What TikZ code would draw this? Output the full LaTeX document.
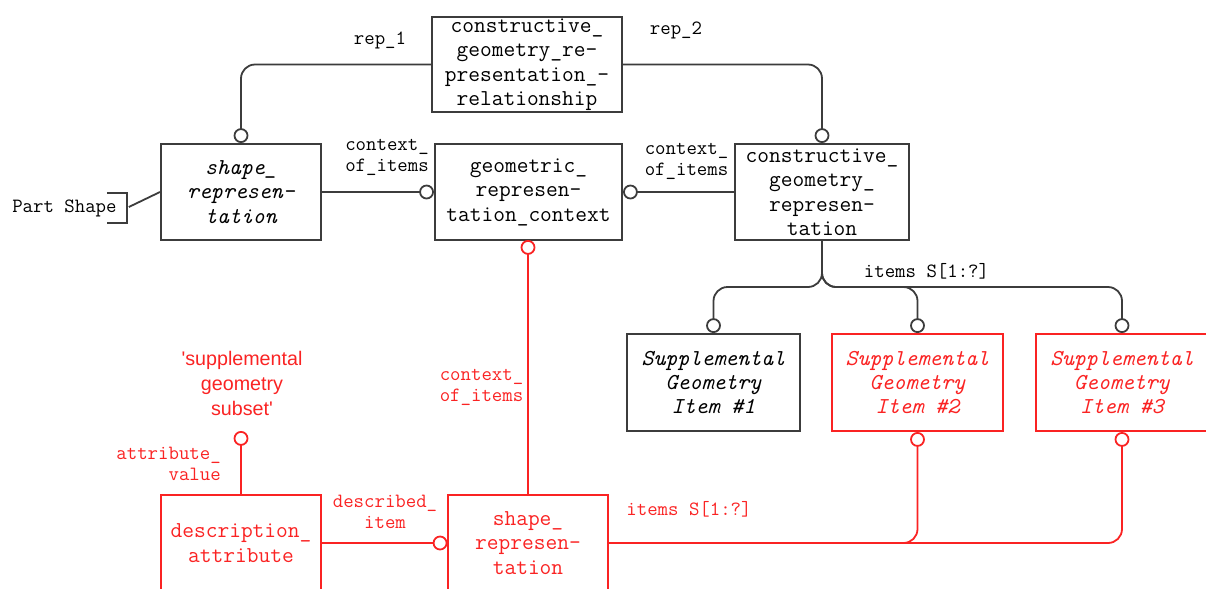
\documentclass[tikz,border=0pt]{standalone}
\usepackage{fontspec}
\newfontfamily\labelsans[Ligatures=TeXOff]{Liberation Sans}
\usepackage{tikz}
\usetikzlibrary{arrows.meta}
\usetikzlibrary{calc}
\definecolor{entgray}{RGB}{60,60,60}
\definecolor{entred}{RGB}{250,35,35}

\begin{document}
\begin{tikzpicture}[x=0.025cm, y=-0.025cm,
	ent/.style={draw=entgray, line width=0.05cm, align=center, inner sep=0pt, minimum height=2.4cm, font=\ttfamily\fontsize{16.2}{17.4}\selectfont},
	itent/.style={ent, font=\ttfamily\itshape\fontsize{16.2}{17.4}\selectfont},
	redent/.style={ent, draw=entred, text=entred},
	reditent/.style={itent, draw=entred, text=entred},
	lbl/.style={font=\ttfamily\fontsize{14.4}{15}\selectfont, inner sep=0pt},
	opt/.style={-{Circle[open, length=0.37cm, width=0.37cm]}},
	link/.style={draw=entgray, line width=0.045cm, rounded corners=0.35cm},
	redlink/.style={link, draw=entred}]

	\useasboundingbox (0,0) rectangle (1206,588);
	\clip (0,0) rectangle (1206,588);

	% entities
	\node[ent, minimum width=4.75cm, minimum height=2.375cm] (cgrr) at (527,64.5) {constructive\_\\geometry\_re-\\presentation\_-\\relationship};
	\node[itent, minimum width=4cm] (srep) at (241,192) {shape\_\\represen-\\tation};
	\node[ent, minimum width=4.675cm] (geo) at (528.5,192) {geometric\_\\represen-\\tation\_context};
	\node[ent, minimum width=4.35cm] (cgr) at (822,192) {constructive\_\\geometry\_\\represen-\\tation};

	\node[itent, minimum width=4.325cm, minimum height=2.425cm] (sgi1) at (713.5,382.5) {Supplemental\\Geometry\\Item \#1};
	\node[reditent, minimum width=4.275cm, minimum height=2.425cm] (sgi2) at (917.5,382.5) {Supplemental\\Geometry\\Item \#2};
	\node[reditent, minimum width=4.3cm, minimum height=2.425cm] (sgi3) at (1122,382.5) {Supplemental\\Geometry\\Item \#3};

	\node[redent, minimum width=4cm] (desc) at (241,543) {description\_\\attribute};
	\node[redent, minimum width=3.975cm] (rsrep) at (528,543) {shape\_\\represen-\\tation};

	% Part Shape
	\node[lbl, anchor=west] (ps) at (12,208) {Part Shape};
	\draw[link, sharp corners] ($(ps.east)+(-10,-15)$) -- ++(20,0) -- ++(0,30) -- ++(-20,0);
	\coordinate (psb) at ($(ps.east)+(12,-1)$);
	\draw[link] (psb) -- (srep.west);

	% black relations
	\draw[link, opt] (cgrr.west) -| (srep.north);
	\draw[link, opt] (cgrr.east) -| (cgr.north);
	\draw[link, opt] (srep.east) -- (geo.west);
	\draw[link, opt] (cgr.west) -- (geo.east);
	\coordinate (br) at (822,287);
	\draw[link, opt] (cgr.south) -- (br) -| (sgi1.north);
	\draw[link, opt] (cgr.south) -- (br) -| (sgi2.north);
	\draw[link, opt] (cgr.south) -- (br) -| (sgi3.north);

	\node[lbl] (rep1) at (380,40) {rep\_1};
	\node[lbl] (rep2) at (676,30) {rep\_2};
	\node[lbl, align=right, anchor=east] (ctx1) at (429,157.5) {context\_\\of\_items};
	\node[lbl, align=left] (ctx2) at (686.5,161) {context\_\\of\_items};
	\node[lbl] (items1) at (926.5,271) {items S[1:?]};

	% red relations
	\coordinate (gc) at (528,240);
	\draw[redlink, opt] (rsrep.north) -- (gc);
	\coordinate (av) at (241,431);
	\draw[redlink, opt] (desc.north) -- (av);
	\draw[redlink, opt] (desc.east) -- (rsrep.west);
	\draw[redlink, opt] (rsrep.east) -| (sgi2.south);
	\draw[redlink, opt] (rsrep.east) -| (sgi3.south);

	\node[lbl, text=entred, align=left] (ctx3) at (481.5,387) {context\_\\of\_items};
	\node[lbl, text=entred, align=right, anchor=east] (attv) at (221,464) {attribute\_\\value};
	\node[lbl, text=entred, align=center] (descit) at (385,512) {described\_\\item};
	\node[lbl, text=entred] (items2) at (689,509) {items S[1:?]};
	\node[text=entred, inner sep=0pt, align=center, font=\labelsans\fontsize{14}{17.8}\selectfont] (subset) at (242,383) {'supplemental\\geometry\\subset'};
\end{tikzpicture}
\end{document}
